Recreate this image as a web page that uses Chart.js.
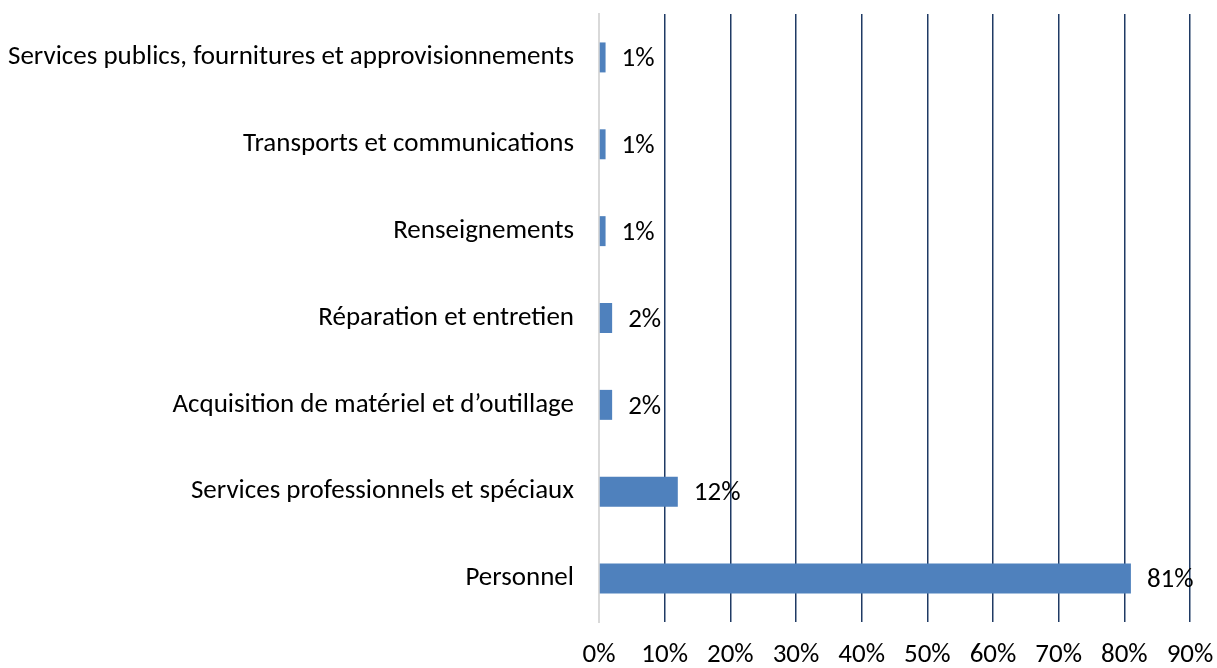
<!DOCTYPE html>
<html>
<head>
<meta charset="utf-8">
<script src="https://cdn.jsdelivr.net/npm/chart.js@4/dist/chart.umd.min.js"></script>
<style>
html,body{margin:0;padding:0;background:#fff;}
#wrap{width:1217px;height:668px;position:relative;}
</style>
</head>
<body>
<div id="wrap"><canvas id="c" width="1217" height="668"></canvas></div>
<script>
const categories = [
  "Services publics, fournitures et approvisionnements",
  "Transports et communications",
  "Renseignements",
  "Réparation et entretien",
  "Acquisition de matériel et d\u2019outillage",
  "Services professionnels et spéciaux",
  "Personnel"
];
const values = [1, 1, 1, 2, 2, 12, 81];
const valueLabels = ["1%", "1%", "1%", "2%", "2%", "12%", "81%"];
const xMax = 90;
const xStep = 10;

const FONT = "Carlito, Lato, 'Liberation Sans', sans-serif";
const FS = 27;

const dataLabelPlugin = {
  id: 'dataLabels',
  afterDatasetsDraw(chart) {
    const ctx = chart.ctx;
    const meta = chart.getDatasetMeta(0);
    const xs = chart.scales.x;
    ctx.save();
    ctx.font = FS + "px " + FONT;
    ctx.fillStyle = "#000";
    ctx.textAlign = "left";
    ctx.textBaseline = "middle";
    meta.data.forEach((bar, i) => {
      const x = xs.getPixelForValue(values[i]) + 16;
      ctx.fillText(valueLabels[i], x, bar.y + 2);
    });
    ctx.restore();
  }
};

new Chart(document.getElementById('c'), {
  type: 'bar',
  data: {
    labels: categories,
    datasets: [{
      data: values,
      backgroundColor: '#4f81bd',
      borderWidth: 0,
      barPercentage: 0.345,
      categoryPercentage: 1.0
    }]
  },
  options: {
    indexAxis: 'y',
    responsive: false,
    animation: false,
    devicePixelRatio: 1,
    layout: { padding: { top: 14, right: 27, bottom: 0, left: 0 } },
    plugins: { legend: { display: false }, tooltip: { enabled: false } },
    scales: {
      x: {
        min: 0,
        max: xMax,
        ticks: {
          stepSize: xStep,
          padding: 20,
          color: '#000',
          font: { family: FONT, size: FS, lineHeight: 1 },
          callback: v => v + '%'
        },
        grid: {
          drawTicks: false,
          color: ctx => ctx.index === 0 ? 'rgba(0,0,0,0)' : '#1f3a64',
          lineWidth: 1.5
        },
        border: { display: false },
        afterFit: s => { s.paddingLeft = 0; s.paddingRight = 0; s.height = 46; }
      },
      y: {
        ticks: {
          padding: 25,
          color: '#000',
          font: { family: FONT, size: FS, lineHeight: 1 }
        },
        grid: { display: false, drawTicks: false },
        border: { display: true, color: '#d9d9d9', width: 2 },
        afterFit: s => { s.width = 599; s.paddingTop = 0; s.paddingBottom = 0; }
      }
    }
  },
  plugins: [dataLabelPlugin]
});
</script>
</body>
</html>
